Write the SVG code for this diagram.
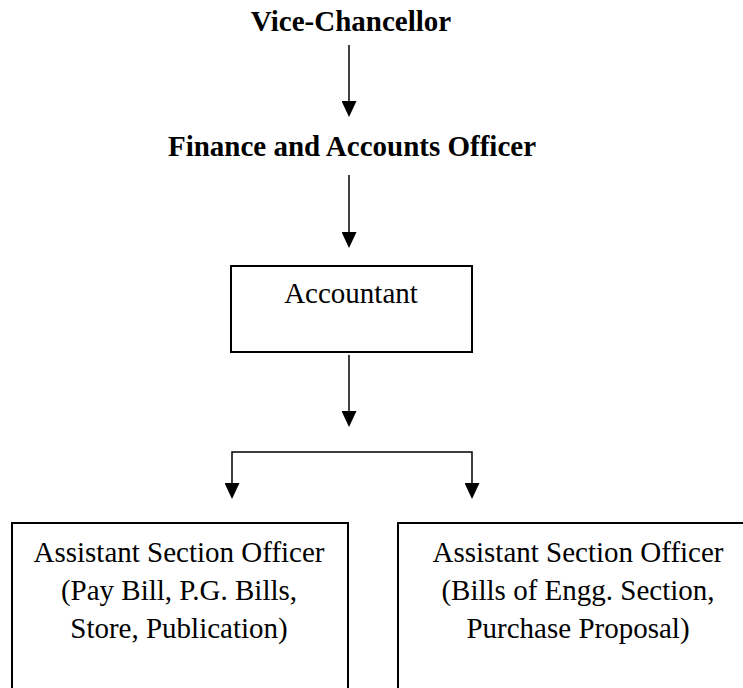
<svg xmlns="http://www.w3.org/2000/svg" width="743" height="688" viewBox="0 0 743 688">
<style>
.t{font-family:"Liberation Serif","Times New Roman",serif;font-size:29px;fill:#000;text-anchor:middle}
.b{font-weight:bold}
.box{fill:#fff;stroke:#000;stroke-width:2}
.c{fill:none;stroke:#000;stroke-width:1.5}
</style>
<defs>
<marker id="ah" viewBox="0 0 16 15" refX="6" refY="7.5" markerWidth="16" markerHeight="15" markerUnits="userSpaceOnUse" orient="auto">
<path d="M0,0 L16,7.5 L0,15 z" fill="#000"/>
</marker>
</defs>
<rect width="743" height="688" fill="#fff"/>
<g id="connectors">
<path class="c" d="M349,45 V107" marker-end="url(#ah)"/>
<path class="c" d="M349,175 V238" marker-end="url(#ah)"/>
<path class="c" d="M349,355 V417" marker-end="url(#ah)"/>
<path class="c" d="M352,452 H232 V489" marker-end="url(#ah)"/>
<path class="c" d="M352,452 H472 V489" marker-end="url(#ah)"/>
</g>
<g id="vice-chancellor">
<text class="t b" x="351" y="31">Vice-Chancellor</text>
</g>
<g id="finance-officer">
<text class="t b" x="352" y="156">Finance and Accounts Officer</text>
</g>
<g id="accountant">
<rect class="box" x="231" y="266" width="241" height="86"/>
<text class="t" x="351" y="303">Accountant</text>
</g>
<g id="aso-left">
<rect class="box" x="12" y="523" width="336" height="200"/>
<text class="t" x="179" y="562">Assistant Section Officer</text>
<text class="t" x="179" y="600">(Pay Bill, P.G. Bills,</text>
<text class="t" x="179" y="638">Store, Publication)</text>
</g>
<g id="aso-right">
<rect class="box" x="398" y="523" width="360" height="200"/>
<text class="t" x="578" y="562">Assistant Section Officer</text>
<text class="t" x="578" y="600">(Bills of Engg. Section,</text>
<text class="t" x="578" y="638">Purchase Proposal)</text>
</g>
</svg>
